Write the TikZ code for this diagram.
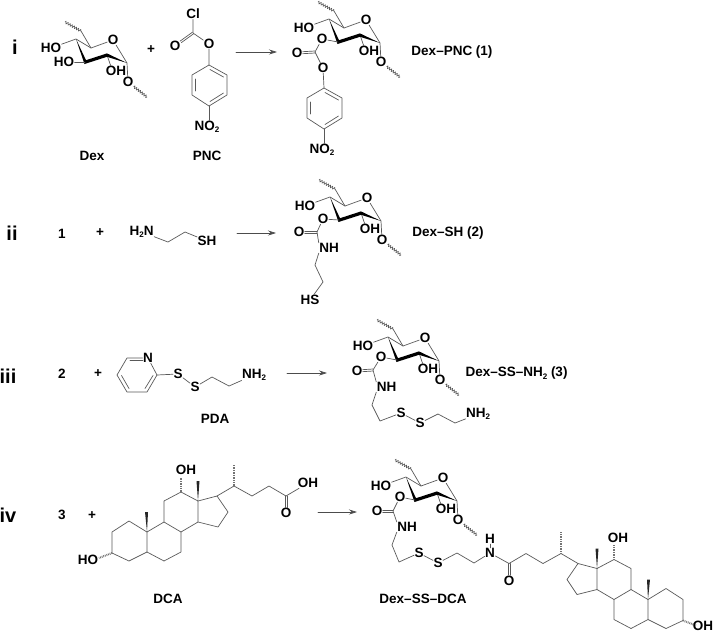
\documentclass[tikz,border=0pt]{standalone}
\usepackage{fontspec}
\setmainfont{Liberation Sans}
\usetikzlibrary{arrows.meta,decorations.pathmorphing}
\begin{document}
\begin{tikzpicture}[x=1pt,y=-1pt,font=\fontsize{13.5}{14}\selectfont\bfseries,line join=round,line cap=round,>={Stealth[length=8pt,width=5pt]},
	atom/.style={inner sep=0.5pt,outer sep=0pt},
	numeral/.style={inner sep=0pt,font=\fontsize{20}{22}\selectfont\bfseries},
	bond/.style={draw=black!65,line width=0.7pt},
	hashbond/.style={draw=black!55,line width=2pt,line cap=butt,dash pattern=on 0.8pt off 0.9pt},
	wavy/.style={draw=black!65,line width=0.6pt,decorate,decoration={zigzag,amplitude=1.3pt,segment length=2.4pt}},
	reaction/.style={draw=black!70,line width=0.7pt,->}]
	\def\sbtwo{\raisebox{-2.5pt}{\fontsize{8}{8}\selectfont 2}}
	% double bond, drawn twice with a small offset
	\def\twobond#1#2#3#4{
		\draw[bond,transform canvas={shift={(#3pt,#4pt)}}] (#1)--(#2);
		\draw[bond,transform canvas={shift={(0pt-#3pt,0pt-#4pt)}}] (#1)--(#2);}
	% sugar ring
	\def\sugarunit#1#2#3{
		\begin{scope}[shift={(#2,#3)}]
			\coordinate (#1w6) at (65,22); \coordinate (#1c6) at (81,31); \coordinate (#1c5) at (91,48);
			\coordinate (#1c4) at (76,39); \coordinate (#1c3) at (85,62); \coordinate (#1c2) at (107,55);
			\coordinate (#1c1) at (127,63); \coordinate (#1w1) at (147,97);
			\node[atom] (#1ro) at (113,40) {O};
			\node[atom] (#1ho) at (51,48) {HO};
			\node[atom] (#1oh) at (116,71) {OH};
			\node[atom] (#1ox) at (128,82) {O};
			\draw[wavy] (#1w6)--(#1c6);
			\draw[bond] (#1c6)--(#1c5)--(#1ro)--(#1c1)--(#1ox);
			\draw[bond] (#1c5)--(#1c4)--(#1ho);
			\draw[bond] (#1c2)--(#1oh.135);
			\draw[wavy] (#1ox)--(#1w1);
			\fill[black] (76,39)--(86,60.2)--(107,53.4)--(127,63)--(107,56.8)--(84.5,64)--cycle;
		\end{scope}}
	% benzene with nitro group
	\def\nitroring#1#2#3{
		\begin{scope}[shift={(#2,#3)}]
			\coordinate (#1r1) at (209,65); \coordinate (#1r2) at (227,75); \coordinate (#1r3) at (227,95);
			\coordinate (#1r4) at (209,106); \coordinate (#1r5) at (192,95); \coordinate (#1r6) at (192,75);
			\node[atom] (#1no) at (207,127) {NO\sbtwo};
			\draw[bond] (#1r1)--(#1r2)--(#1r3)--(#1r4)--(#1r5)--(#1r6)--cycle;
			\draw[bond] (195.5,79)--(195.5,91);
			\draw[bond] (210,69.5)--(223.5,77);
			\draw[bond] (223.5,93)--(210,101.5);
			\draw[bond] (#1r4)--(#1r4 |- #1no.north);
		\end{scope}}
	% steroid skeleton and side chain
	\def\steroid#1#2{
		\begin{scope}[#2]
			\coordinate (#1c1) at (129,521); \coordinate (#1c2) at (112,532); \coordinate (#1c3) at (112,553);
			\coordinate (#1c4) at (129,561); \coordinate (#1c5) at (147,552); \coordinate (#1c6) at (164,561);
			\coordinate (#1c7) at (181,552); \coordinate (#1c8) at (181,532); \coordinate (#1c9) at (164,522);
			\coordinate (#1c10) at (147,532); \coordinate (#1c11) at (164,501); \coordinate (#1c12) at (181,492);
			\coordinate (#1c13) at (198,501); \coordinate (#1c14) at (198,522); \coordinate (#1c15) at (218,527);
			\coordinate (#1c16) at (228,512); \coordinate (#1c17) at (217,496); \coordinate (#1c20) at (234,486);
			\coordinate (#1c22) at (252,496); \coordinate (#1c23) at (269,486); \coordinate (#1c24) at (286,496);
			\coordinate (#1me) at (234,464); \coordinate (#1o12) at (181,477); \coordinate (#1o3) at (99,558);
			\node[atom] (#1ket) at (286,513) {O};
			\draw[bond] (#1c10)--(#1c1)--(#1c2)--(#1c3)--(#1c4)--(#1c5)--(#1c10);
			\draw[bond] (#1c5)--(#1c6)--(#1c7)--(#1c8)--(#1c9)--(#1c10);
			\draw[bond] (#1c9)--(#1c11)--(#1c12)--(#1c13)--(#1c14)--(#1c8);
			\draw[bond] (#1c14)--(#1c15)--(#1c16)--(#1c17)--(#1c13);
			\draw[bond] (#1c17)--(#1c20)--(#1c22)--(#1c23)--(#1c24);
			\twobond{#1c24}{#1ket}{1}{0}
			\fill[black!85] (147,532)--(145,512)--(148,512)--cycle;
			\fill[black!85] (198,501)--(196.5,481)--(199.5,481)--cycle;
			\draw[hashbond] (#1c20)--(#1me);
			\draw[hashbond] (#1c12)--(#1o12);
			\draw[hashbond] (#1c3)--(#1o3);
		\end{scope}}
	\useasboundingbox (0,0) rectangle (714,633);
	% i
	\node[numeral] (labi) at (15,47) {i};
	\sugarunit{dex}{0}{0}
	\node[atom] (dexho3) at (64,62) {HO};
	\draw[bond] (dexho3)--(dexc3);
	\node[atom] (plusi) at (151,50) {+};
	\nitroring{pnc}{0}{0}
	\node[atom] (pnccl) at (193,14) {Cl};
	\coordinate (pncc) at (193,33);
	\node[atom] (pncket) at (175,46) {O};
	\node[atom] (pncest) at (209,44) {O};
	\draw[bond] (pnccl)--(pncc)--(pncest)--(pncr1);
	\twobond{pncc}{pncket}{0.55}{-0.8}
	\node[atom] (dexname) at (92,156) {Dex};
	\node[atom] (pncname) at (207,156) {PNC};
	\coordinate (arias) at (236,52); \coordinate (ariae) at (277,52);
	\draw[reaction] (arias)--(ariae);
	\sugarunit{pi}{253}{-20}
	\node[atom] (pio3) at (322,39) {O};
	\coordinate (picb) at (315,52);
	\node[atom] (piket) at (297,53) {O};
	\node[atom] (pest) at (323,68) {O};
	\draw[bond] (pic3)--(pio3)--(picb)--(pest);
	\twobond{picb}{piket}{0}{1}
	\nitroring{pn}{115}{23}
	\draw[bond] (pest)--(pnr1);
	\node[atom] (piname) at (452,52) {Dex–PNC (1)};
	% ii
	\node[numeral] (labii) at (12,233) {ii};
	\node[atom] (oneii) at (62,234) {1};
	\node[atom] (plusii) at (100,233) {+};
	\node[atom] (aman) at (141.7,232) {H\sbtwo N};
	\coordinate (amc1) at (168,242); \coordinate (amc2) at (185,232);
	\node[atom] (amsh) at (207,241) {SH};
	\draw[bond] (aman)--(amc1)--(amc2)--(amsh);
	\coordinate (ariias) at (237,233); \coordinate (ariiae) at (276,233);
	\draw[reaction] (ariias)--(ariiae);
	\sugarunit{pii}{254}{158}
	\node[atom] (piio3) at (323,219) {O};
	\coordinate (piicb) at (317,232);
	\node[atom] (piiket) at (299,232) {O};
	\node[atom] (piinh) at (329,248) {NH};
	\coordinate (piic1) at (315,265); \coordinate (piic2) at (323,282);
	\node[atom] (piish) at (310,300) {HS};
	\draw[bond] (piic3)--(piio3)--(piicb)--(piinh.north west);
	\twobond{piicb}{piiket}{0}{1}
	\draw[bond] (piinh.south west)--(piic1)--(piic2)--(piish);
	\node[atom] (piiname) at (448,233) {Dex–SH (2)};
	% iii
	\node[numeral] (labiii) at (8,376) {iii};
	\node[atom] (twoiii) at (62,374) {2};
	\node[atom] (plusiii) at (98,374) {+};
	\node[atom] (pyn) at (148,358) {N};
	\coordinate (pya) at (157,375); \coordinate (pyb) at (147,392); \coordinate (pyc) at (127,392);
	\coordinate (pyd) at (117,375); \coordinate (pye) at (127,358);
	\node[atom] (pys1) at (178,374) {S};
	\node[atom] (pys2) at (195,387) {S};
	\coordinate (pyf) at (212,377); \coordinate (pyg) at (229,386);
	\node[atom] (pyam) at (254,375) {NH\sbtwo};
	\draw[bond] (pyn)--(pya)--(pyb)--(pyc)--(pyd)--(pye)--(pyn);
	\draw[bond] (130,360.5)--(143,360.5);
	\draw[bond] (121.5,375.5)--(129,388.5);
	\draw[bond] (145,388.5)--(153,375.5);
	\draw[bond] (pya)--(pys1)--(pys2)--(pyf)--(pyg)--(pyam);
	\node[atom] (pdaname) at (215,419) {PDA};
	\coordinate (ariiias) at (287,373); \coordinate (ariiiae) at (327,373);
	\draw[reaction] (ariiias)--(ariiiae);
	\sugarunit{piii}{312}{298}
	\node[atom] (piiio3) at (381,357) {O};
	\coordinate (piiicb) at (373,370);
	\node[atom] (piiiket) at (357,371) {O};
	\node[atom] (piiinh) at (386.5,387) {NH};
	\coordinate (piiic1) at (372,405); \coordinate (piiic2) at (380,421);
	\node[atom] (piiis1) at (401,413) {S};
	\node[atom] (piiis2) at (420,423) {S};
	\coordinate (piiic3b) at (438,414); \coordinate (piiic4) at (455,423);
	\node[atom] (piiiam) at (478,414) {NH\sbtwo};
	\draw[bond] (piiic3)--(piiio3)--(piiicb)--(piiinh.north west);
	\twobond{piiicb}{piiiket}{0}{1}
	\draw[bond] (piiinh.south west)--(piiic1)--(piiic2)--(piiis1)--(piiis2)--(piiic3b)--(piiic4)--(piiiam);
	\node[atom] (piiiname) at (516.5,373) {Dex–SS–NH\sbtwo\ (3)};
	% iv
	\node[numeral] (labiv) at (8,515) {iv};
	\node[atom] (threeiv) at (62,515) {3};
	\node[atom] (plusiv) at (92,516) {+};
	\steroid{dca}{}
	\node[atom] (dcaoh12) at (186,470) {OH};
	\node[atom] (dcaho3) at (88,560) {HO};
	\node[atom] (dcaacid) at (308,483) {OH};
	\draw[bond] (dcac24)--(dcaacid);
	\node[atom] (dcaname) at (168,599) {DCA};
	\coordinate (arivs) at (318,512); \coordinate (arive) at (357,512);
	\draw[reaction] (arivs)--(arive);
	\sugarunit{piv}{330}{438}
	\node[atom] (pivo3) at (400,497) {O};
	\coordinate (pivcb) at (393,511);
	\node[atom] (pivket) at (377,511) {O};
	\node[atom] (pivnh) at (407,527) {NH};
	\coordinate (pivc1) at (392,545); \coordinate (pivc2) at (399,562);
	\node[atom] (pivs1) at (419,553) {S};
	\node[atom] (pivs2) at (438,563) {S};
	\coordinate (pivc3b) at (457,553); \coordinate (pivc4) at (474,563);
	\node[atom] (pivn) at (490,553) {N};
	\node[atom] (pivh) at (490,539) {H};
	\draw[bond] (pivc3)--(pivo3)--(pivcb)--(pivnh.north west);
	\twobond{pivcb}{pivket}{0}{1}
	\draw[bond] (pivnh.south west)--(pivc1)--(pivc2)--(pivs1)--(pivs2)--(pivc3b)--(pivc4)--(pivn);
	\steroid{dcb}{shift={(795,67.5)},xscale=-1}
	\draw[bond] (pivn)--(dcbc24);
	\draw[bond] (pivn)--(pivh);
	\node[atom] (dcboh12) at (618,538) {OH};
	\node[atom] (dcboh3) at (703,626) {OH};
	\node[atom] (pivname) at (423,599) {Dex–SS–DCA};
\end{tikzpicture}
\end{document}
